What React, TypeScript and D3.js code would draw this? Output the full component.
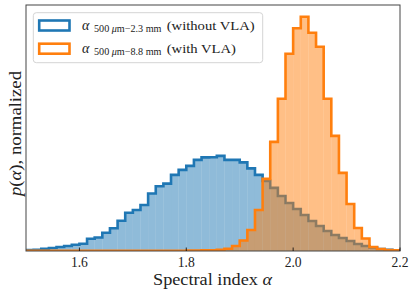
import React from "react";
import * as d3 from "d3";

// Histogram bin range (common bins for both series)
const binStart = 1.5;
const binEnd = 2.2;
const nBins = 49;

// Bin heights (arbitrary normalized units)
const blueCounts = [
  1, 1.3, 2.3, 3, 4, 5, 6.3, 7.3, 12.3, 13.5,
  18.2, 22.7, 30.2, 38.2, 41, 46, 57.5, 64.7, 67.3, 76,
  81, 85, 91, 93.5, 93.7, 95, 91, 91, 88.5, 82.5,
  76, 70, 63, 55, 48, 42, 36, 30, 25, 20,
  16, 13, 10, 7, 5, 3.5, 2, 1.2, 0.8,
];
const orangeCounts = [
  0.2, 0.2, 0.2, 0.2, 0.2, 0.2, 0.2, 0.2, 0.2, 0.2,
  0.2, 0.2, 0.2, 0.2, 0.2, 0.2, 0.3, 0.3, 0.3, 0.3,
  0.3, 0.4, 0.5, 0.6, 0.8, 1.2, 2.3, 5, 10.5, 21,
  41, 72, 109, 152, 197, 222.5, 234, 218, 204, 152,
  115, 78, 47, 23, 12.5, 4, 2, 1, 0.6,
];

const xTicks = [1.6, 1.8, 2.0, 2.2];
const xTickLabels = ["1.6", "1.8", "2.0", "2.2"];
const seriesColors = ["#1f77b4", "#ff7f0e"];
const legendSubsTail = ["m−2.3 mm", "m−8.8 mm"];
const legendTails = ["(without VLA)", "(with VLA)"];

const W = 415;
const H = 294;
const left = 26;
const right = 400;
const top = 5;
const bottom = 251;
const FONT = "'Liberation Serif', 'Times New Roman', serif";

export default function App() {
  const edges = d3.range(nBins + 1).map((i) => binStart + (i * (binEnd - binStart)) / nBins);
  const ymax = (d3.max([...blueCounts, ...orangeCounts]) as number) * 1.05;
  const x = d3.scaleLinear().domain([binStart, binEnd]).range([left, right]);
  const y = d3.scaleLinear().domain([0, ymax]).range([bottom, top]);

  const stepPath = (counts: number[]) => {
    const pts: [number, number][] = [[edges[0], 0]];
    counts.forEach((c, i) => {
      pts.push([edges[i], c]);
      pts.push([edges[i + 1], c]);
    });
    pts.push([edges[nBins], 0]);
    return d3
      .line<[number, number]>()
      .x((d) => x(d[0]))
      .y((d) => y(d[1]))(pts) as string;
  };

  const bars = (counts: number[], color: string) =>
    counts.map((c, i) => (
      <rect
        key={i}
        x={x(edges[i])}
        y={y(c)}
        width={x(edges[i + 1]) - x(edges[i])}
        height={y(0) - y(c)}
        fill={color}
        fillOpacity={0.5}
      />
    ));

  return (
    <svg
      width={W}
      height={H}
      style={{ position: "absolute", left: 0, top: 0, display: "block", background: "#fff" }}
      fontFamily={FONT}
    >
      <defs>
        <clipPath id="plot">
          <rect x={left} y={top} width={right - left} height={bottom - top} />
        </clipPath>
      </defs>
      <rect x={0} y={0} width={W} height={H} fill="#fff" />
      <g clipPath="url(#plot)">
        {bars(blueCounts, seriesColors[0])}
        <path d={stepPath(blueCounts)} fill="none" stroke={seriesColors[0]} strokeWidth={2.6} />
        {bars(orangeCounts, seriesColors[1])}
        <path d={stepPath(orangeCounts)} fill="none" stroke={seriesColors[1]} strokeWidth={2.6} />
      </g>

      {/* spines */}
      <rect x={left} y={top} width={right - left} height={bottom - top} fill="none" stroke="#444" strokeWidth={1} />

      {/* x ticks (inward) */}
      {xTicks.map((t, i) => (
        <g key={i}>
          <line x1={x(t)} x2={x(t)} y1={bottom} y2={bottom - 3.5} stroke="#000" strokeWidth={0.8} />
          <text x={x(t)} y={267.3} fontSize={13.6} textAnchor="middle" fill="#222">
            {xTickLabels[i]}
          </text>
        </g>
      ))}

      {/* x label */}
      <text x={153} y={285} fontSize={16} fill="#222" textLength={119} lengthAdjust="spacingAndGlyphs">
        Spectral index <tspan fontStyle="italic">α</tspan>
      </text>

      {/* y label */}
      <text
        transform="translate(20.7,196) rotate(-90)"
        x={0}
        y={0}
        fontSize={16}
        fill="#222"
        textLength={125}
        lengthAdjust="spacingAndGlyphs"
      >
        <tspan fontStyle="italic">p</tspan>(<tspan fontStyle="italic">α</tspan>), normalized
      </text>

      {/* legend */}
      <rect x={33.3} y={12.7} width={229.4} height={50} rx={3} fill="#fff" fillOpacity={0.8} stroke="#d4d4d4" strokeWidth={1} />
      {seriesColors.map((c, i) => {
        const cy = 25.5 + i * 23.2;
        const base = 29.5 + i * 23.2;
        return (
          <g key={i}>
            <rect x={39.2} y={cy - 5} width={30.3} height={10} fill="none" stroke={c} strokeWidth={2.6} />
            <text x={82} y={base} fontSize={14} fontStyle="italic" fill="#222">
              α
            </text>
            <text x={94} y={base + 2.2} fontSize={9.5} fill="#222" textLength={67.5} lengthAdjust="spacingAndGlyphs">
              500 <tspan fontStyle="italic">μ</tspan>
              {legendSubsTail[i]}
            </text>
            <text
              x={166.7}
              y={base}
              fontSize={13.5}
              fill="#222"
              textLength={i === 0 ? 88 : 69.3}
              lengthAdjust="spacingAndGlyphs"
            >
              {legendTails[i]}
            </text>
          </g>
        );
      })}
    </svg>
  );
}
